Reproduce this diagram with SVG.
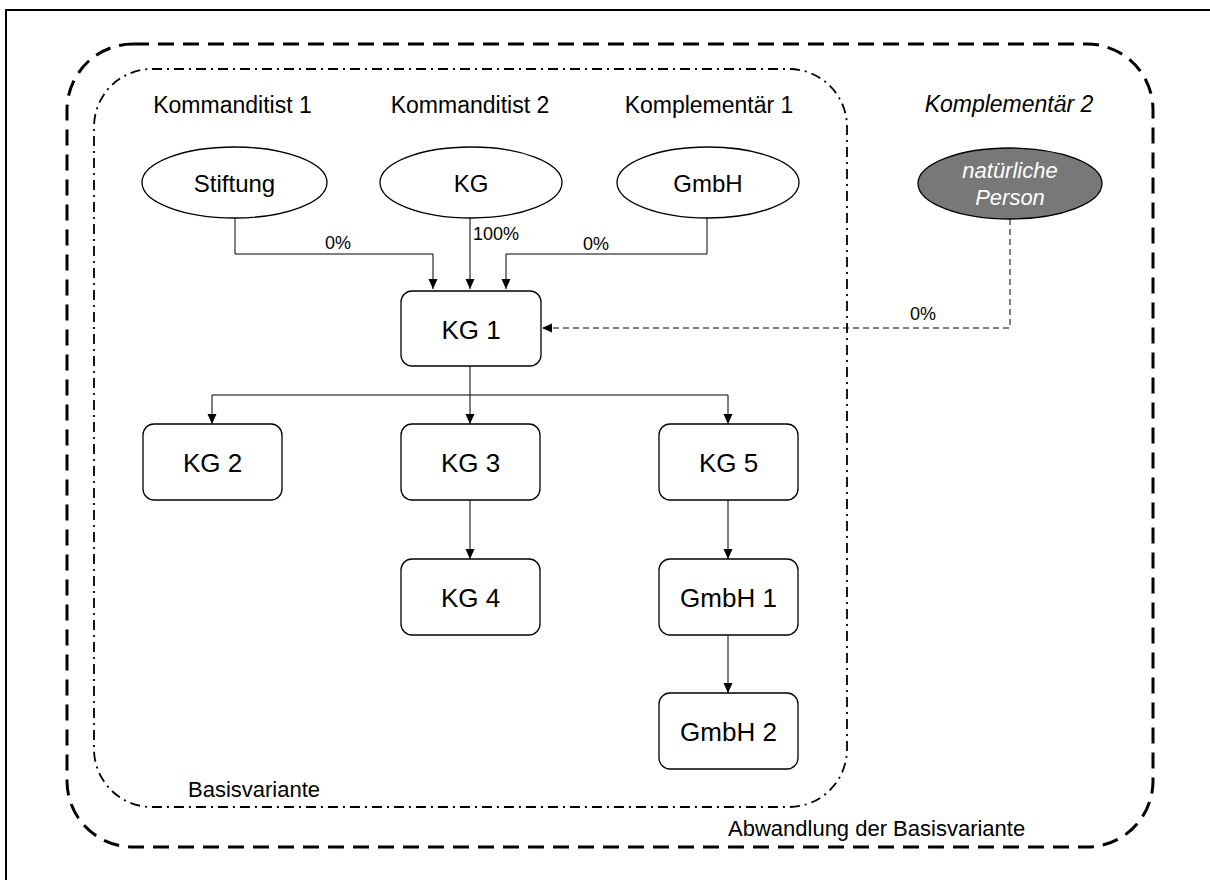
<svg xmlns="http://www.w3.org/2000/svg" width="1210" height="880" viewBox="0 0 1210 880">
<style>
text{font-family:"Liberation Sans",Arial,sans-serif;fill:#000}
.head{font-size:23px;text-anchor:middle}
.lbl{font-size:26px;text-anchor:middle}
.ell{font-size:24px;text-anchor:middle}
.pct{font-size:18px}
.area{font-size:22px}
.box{fill:#fff;stroke:#000;stroke-width:1.3}
.conn{fill:none;stroke:#000;stroke-width:1}
</style>
<defs>
<marker id="arr" viewBox="0 0 10 10" refX="10" refY="5" markerWidth="10" markerHeight="10" markerUnits="userSpaceOnUse" orient="auto">
<path d="M0,0.5 L10,5 L0,9.5 Z" fill="#000"/>
</marker>
</defs>
<rect x="0" y="0" width="1210" height="880" fill="#fff"/>
<rect x="6" y="10" width="1220" height="890" fill="none" stroke="#000" stroke-width="2"/>
<g id="abwandlung">
<rect x="67" y="44" width="1086" height="803" rx="66" ry="66" fill="none" stroke="#000" stroke-width="3" stroke-dasharray="16 9"/>
<text class="area" x="728" y="836">Abwandlung der Basisvariante</text>
</g>
<g id="basisvariante">
<rect x="94" y="69" width="753" height="738" rx="58" ry="58" fill="none" stroke="#000" stroke-width="1.8" stroke-dasharray="10 5 2 5"/>
<text class="area" x="188" y="797">Basisvariante</text>
</g>
<g id="headings">
<text class="head" x="232.5" y="113">Kommanditist 1</text>
<text class="head" x="470" y="113">Kommanditist 2</text>
<text class="head" x="709" y="113">Komplementär 1</text>
<text class="head" x="1009" y="112" font-style="italic">Komplementär 2</text>
</g>
<g id="connectors">
<path class="conn" d="M235,218 V254 H433 V289" marker-end="url(#arr)"/>
<path class="conn" d="M470,218 V289" marker-end="url(#arr)"/>
<path class="conn" d="M707,218 V254 H506 V289" marker-end="url(#arr)"/>
<path class="conn" d="M1010,219 V328 H542" stroke-width="1.6" stroke-dasharray="6 4" marker-end="url(#arr)"/>
<path class="conn" d="M470,366 V395 H212 V424" marker-end="url(#arr)"/>
<path class="conn" d="M470,395 V424" marker-end="url(#arr)"/>
<path class="conn" d="M470,395 H728 V424" marker-end="url(#arr)"/>
<path class="conn" d="M470,500 V559" marker-end="url(#arr)"/>
<path class="conn" d="M728,500 V559" marker-end="url(#arr)"/>
<path class="conn" d="M728,635 V693" marker-end="url(#arr)"/>
<text class="pct" x="325" y="249">0%</text>
<text class="pct" x="473" y="240">100%</text>
<text class="pct" x="583" y="250">0%</text>
<text class="pct" x="910" y="320">0%</text>
</g>
<g id="stiftung">
<ellipse cx="234.5" cy="182.5" rx="92.5" ry="35.5" class="box"/>
<text class="ell" x="234.5" y="192">Stiftung</text>
</g>
<g id="kg">
<ellipse cx="471" cy="182.5" rx="91" ry="35.5" class="box"/>
<text class="ell" x="471" y="192">KG</text>
</g>
<g id="gmbh">
<ellipse cx="708" cy="182.5" rx="91" ry="35.5" class="box"/>
<text class="ell" x="708" y="192">GmbH</text>
</g>
<g id="natuerliche-person">
<ellipse cx="1010" cy="183.5" rx="92" ry="35.5" fill="#787878" stroke="#000" stroke-width="1.3"/>
<text x="1010" y="178" font-size="22" font-style="italic" text-anchor="middle" style="fill:#fff">natürliche</text>
<text x="1010" y="205" font-size="22" font-style="italic" text-anchor="middle" style="fill:#fff">Person</text>
</g>
<g id="kg1">
<rect x="401" y="291" width="140" height="75" rx="11" class="box"/>
<text class="lbl" x="471" y="339">KG 1</text>
</g>
<g id="kg2">
<rect x="143" y="424" width="139" height="76" rx="11" class="box"/>
<text class="lbl" x="212.5" y="472">KG 2</text>
</g>
<g id="kg3">
<rect x="401" y="424" width="139" height="76" rx="11" class="box"/>
<text class="lbl" x="470.5" y="472">KG 3</text>
</g>
<g id="kg4">
<rect x="401" y="559" width="139" height="76" rx="11" class="box"/>
<text class="lbl" x="470.5" y="607">KG 4</text>
</g>
<g id="kg5">
<rect x="659" y="424" width="139" height="76" rx="11" class="box"/>
<text class="lbl" x="728.5" y="472">KG 5</text>
</g>
<g id="gmbh1">
<rect x="659" y="559" width="139" height="76" rx="11" class="box"/>
<text class="lbl" x="728.5" y="607">GmbH 1</text>
</g>
<g id="gmbh2">
<rect x="659" y="693" width="139" height="76" rx="11" class="box"/>
<text class="lbl" x="728.5" y="741">GmbH 2</text>
</g>
</svg>
